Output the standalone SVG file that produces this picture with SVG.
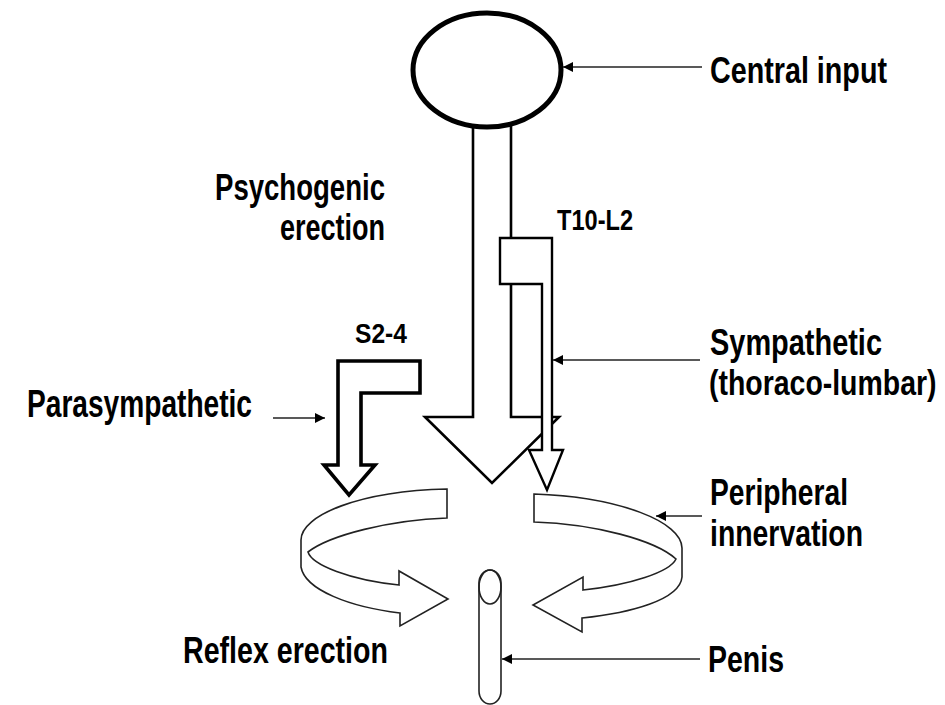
<svg xmlns="http://www.w3.org/2000/svg" width="945" height="705" viewBox="0 0 945 705">
<defs>
<style>
.lbl{font-family:"Liberation Sans",Arial,sans-serif;font-weight:bold;font-size:36px;fill:#000}
.cal{font-family:"Liberation Sans",Arial,sans-serif;font-weight:bold;fill:#000}
.thick{fill:#fff;stroke:#000;stroke-linejoin:miter}
.ring{fill:#fff;stroke:#222;stroke-width:1.6;stroke-linejoin:miter}
.lead{stroke:#222;stroke-width:1.6;fill:none}
</style>
<marker id="ah" viewBox="0 0 10 10" refX="10" refY="5" markerWidth="10" markerHeight="10" markerUnits="userSpaceOnUse" orient="auto">
<path d="M0,0 L10,5 L0,10 Z" fill="#000"/>
</marker>
</defs>

<g id="psychogenic-arrow">
<polygon class="thick" stroke-width="2.6" points="473,125 511,125 511,417 559,417 492,483 425,417 473,417"/>
</g>
<g id="sympathetic-arrow">
<polygon class="thick" stroke-width="2.4" points="511,238 552,238 552,450 563,450 547,490 529,450 542,450 542,284 500,284 500,238"/>
</g>
<g id="central-input">
<ellipse cx="487" cy="70" rx="74" ry="57" fill="#fff" stroke="#000" stroke-width="5"/>
</g>
<g id="parasympathetic-arrow">
<polygon class="thick" stroke-width="3.6" points="338,361 420,361 420,393 361,393 361,465 375,465 349,495 324,465 338,465"/>
</g>
<g id="ring-left">
<path class="ring" d="M447,489 C360,491 301,515 301,540 L301,567 C305,590 350,607 400,613 L400,626 L448,599 L399,571 L399,585 C350,580 312,565 308,552 C330,535 390,520 447,518 Z"/>
</g>
<g id="ring-right">
<path class="ring" d="M534,494 C620,497 682,522 682,548 L682,577 C680,600 630,613 582,618 L582,632 L533,605 L583,577 L583,590 C630,585 670,572 676,559 C655,540 595,524 534,522 Z"/>
</g>
<g id="penis">
<rect x="479" y="570" width="22" height="134" rx="11" ry="13" fill="#fff" stroke="#222" stroke-width="1.6"/>
<ellipse cx="490" cy="587" rx="11" ry="17" fill="none" stroke="#222" stroke-width="1.6"/>
</g>

<g id="connectors">
<line class="lead" x1="702" y1="67" x2="563" y2="67" marker-end="url(#ah)"/>
<line class="lead" x1="700" y1="360" x2="553" y2="360" marker-end="url(#ah)"/>
<line class="lead" x1="273" y1="418" x2="325" y2="418" marker-end="url(#ah)"/>
<line class="lead" x1="702" y1="516" x2="656" y2="516" marker-end="url(#ah)"/>
<line class="lead" x1="700" y1="659" x2="502" y2="659" marker-end="url(#ah)"/>
</g>

<g id="labels">
<text class="lbl" x="710" y="83" textLength="177" lengthAdjust="spacingAndGlyphs">Central input</text>
<text class="lbl" x="385" y="200" text-anchor="end" textLength="170" lengthAdjust="spacingAndGlyphs">Psychogenic</text>
<text class="lbl" x="385" y="240" text-anchor="end" textLength="105" lengthAdjust="spacingAndGlyphs">erection</text>
<text class="cal" x="557" y="230" font-size="30" textLength="76" lengthAdjust="spacingAndGlyphs">T10-L2</text>
<text class="cal" x="355" y="343" font-size="28" textLength="52" lengthAdjust="spacingAndGlyphs">S2-4</text>
<text class="cal" x="27" y="417" font-size="38" textLength="225" lengthAdjust="spacingAndGlyphs">Parasympathetic</text>
<text class="lbl" x="710" y="355" textLength="172" lengthAdjust="spacingAndGlyphs">Sympathetic</text>
<text class="lbl" transform="translate(709,395) scale(0.79,1)" x="0" y="0">(thoraco-lumbar)</text>
<text class="lbl" x="710" y="505" textLength="138" lengthAdjust="spacingAndGlyphs">Peripheral</text>
<text class="lbl" x="710" y="546" textLength="153" lengthAdjust="spacingAndGlyphs">innervation</text>
<text class="lbl" x="183" y="663" textLength="205" lengthAdjust="spacingAndGlyphs">Reflex erection</text>
<text class="lbl" x="708" y="672" textLength="76" lengthAdjust="spacingAndGlyphs">Penis</text>
</g>
</svg>
